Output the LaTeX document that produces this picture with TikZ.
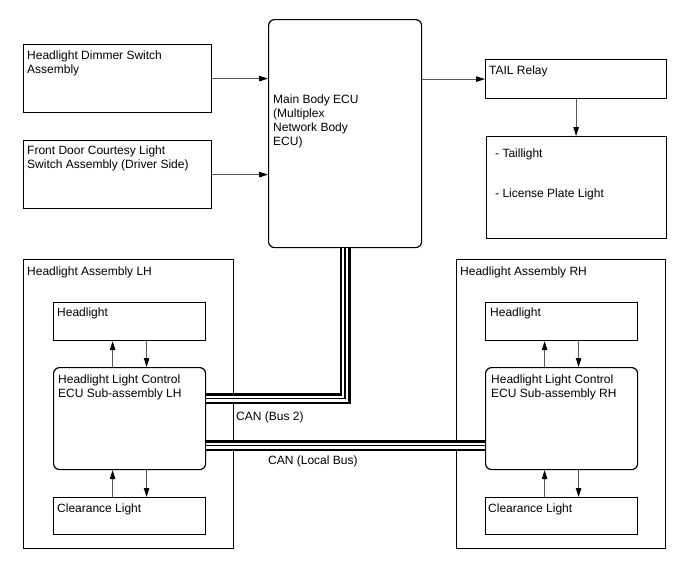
\documentclass[tikz,border=0pt]{standalone}
\usepackage{fontspec}
\setmainfont{Liberation Sans}
\usetikzlibrary{arrows.meta}
\tikzset{
  box/.style={draw=black, line width=1.2pt, inner sep=0pt, anchor=north west, rectangle},
  rbox/.style={box, rounded corners=6pt},
  txt/.style={anchor=north west, inner sep=0pt, font=\fontsize{12}{14}\selectfont, align=left},
  arr/.style={draw=black!65, line width=0.9pt, -{Triangle[length=9pt,width=5.5pt,black]}},
  busa/.style={draw=black, line width=11pt, line join=miter},
  busb/.style={draw=white, line width=6.2pt, line join=miter},
  busc/.style={draw=black, line width=1.3pt, line join=miter}
}
\newcommand{\canbus}[1]{\draw[busa] #1; \draw[busb] #1; \draw[busc] #1;}
\begin{document}
\begin{tikzpicture}[x=1pt,y=-1pt]
\useasboundingbox (0,0) rectangle (688,560);
% top boxes
\node[box, minimum width=188pt, minimum height=68pt] (dim) at (23,44) {};
\node[txt] (dimt) at (27,50.5) {Headlight Dimmer Switch\\Assembly};
\node[box, minimum width=188pt, minimum height=68pt] (door) at (23,140) {};
\node[txt] (doort) at (27,146) {Front Door Courtesy Light\\Switch Assembly (Driver Side)};
\node[rbox, minimum width=153pt, minimum height=228pt] (ecu) at (268,19) {};
\node[txt] (ecut) at (273,95) {Main Body ECU\\(Multiplex\\Network Body\\ECU)};
\node[box, minimum width=181pt, minimum height=39pt] (tail) at (485,59) {};
\node[txt] (tailt) at (489,65.5) {TAIL Relay};
\node[box, minimum width=180pt, minimum height=102pt] (tl) at (486,136) {};
\node[txt] (tlt1) at (495,148.5) {- Taillight};
\node[txt] (tlt2) at (495,188.5) {- License Plate Light};
% arrows top
\draw[arr] (dim.east) -- (dim.east -| ecu.west);
\draw[arr] (door.east) -- (door.east -| ecu.west);
\draw[arr] (tail.west -| ecu.east) -- (tail.west);
\draw[arr] (tail.south) -- (tail.south |- tl.north);
% LH assembly
\node[box, minimum width=210pt, minimum height=289pt] (lh) at (23,259) {};
\node[txt] (lht) at (27,266.5) {Headlight Assembly LH};
\node[box, minimum width=152pt, minimum height=38pt] (lhhl) at (53,302) {};
\node[txt] (lhhlt) at (57,307.5) {Headlight};
\node[rbox, minimum width=152pt, minimum height=102pt] (lhecu) at (53,367) {};
\node[txt] (lhecut) at (58,374.5) {Headlight Light Control\\ECU Sub-assembly LH};
\node[box, minimum width=152pt, minimum height=37pt] (lhcl) at (53,497) {};
\node[txt] (lhclt) at (57,503.5) {Clearance Light};
\draw[arr] ([xshift=-17pt]lhecu.north) -- ([xshift=-17pt]lhhl.south);
\draw[arr] ([xshift=17pt]lhhl.south) -- ([xshift=17pt]lhecu.north);
\draw[arr] ([xshift=-17pt]lhcl.north) -- ([xshift=-17pt]lhecu.south);
\draw[arr] ([xshift=17pt]lhecu.south) -- ([xshift=17pt]lhcl.north);
% RH assembly
\node[box, minimum width=209pt, minimum height=289pt] (rh) at (456,259) {};
\node[txt] (rht) at (460,266.5) {Headlight Assembly RH};
\node[box, minimum width=152pt, minimum height=38pt] (rhhl) at (485,302) {};
\node[txt] (rhhlt) at (490,307.5) {Headlight};
\node[rbox, minimum width=152pt, minimum height=102pt] (rhecu) at (485,367) {};
\node[txt] (rhecut) at (491,374.5) {Headlight Light Control\\ECU Sub-assembly RH};
\node[box, minimum width=152pt, minimum height=37pt] (rhcl) at (485,497) {};
\node[txt] (rhclt) at (488,503.5) {Clearance Light};
\draw[arr] ([xshift=-17pt]rhecu.north) -- ([xshift=-17pt]rhhl.south);
\draw[arr] ([xshift=17pt]rhhl.south) -- ([xshift=17pt]rhecu.north);
\draw[arr] ([xshift=-17pt]rhcl.north) -- ([xshift=-17pt]rhecu.south);
\draw[arr] ([xshift=17pt]rhecu.south) -- ([xshift=17pt]rhcl.north);
% CAN buses
\coordinate (b2) at ([yshift=20pt]lhecu.east);
\coordinate (lb) at ([yshift=-27pt]lhecu.east);
\canbus{(ecu.south) -- (ecu.south |- b2) -- (b2)}
\canbus{(lb) -- (lb -| rhecu.west)}
\node[txt] (can2) at (236,411.5) {CAN (Bus 2)};
\node[txt] (canl) at (268,455.5) {CAN (Local Bus)};
\end{tikzpicture}
\end{document}
